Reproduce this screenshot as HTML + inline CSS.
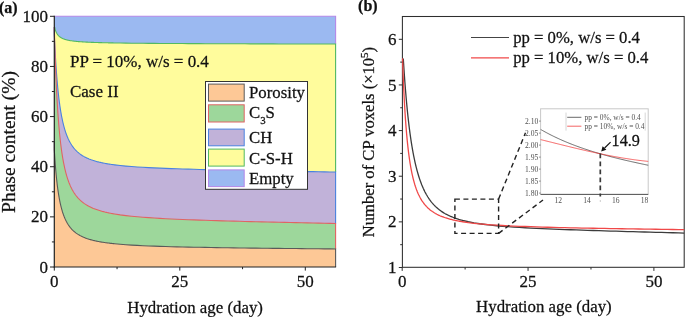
<!DOCTYPE html>
<html><head><meta charset="utf-8"><style>
html,body{margin:0;padding:0;background:#fff;width:685px;height:317px;overflow:hidden}
svg{display:block;will-change:transform}
text{font-family:"Liberation Serif",serif;fill:#111;stroke:#111;stroke-width:0.25px}
</style></head><body>
<svg width="685" height="317" viewBox="0 0 685 317">
<g><polygon points="54.3,16.3 335.6,16.3 335.6,267.0 54.3,267.0" fill="#9bb9f1"/><polygon points="54.30,27.00 54.63,27.13 54.68,27.32 54.72,27.50 54.76,27.68 54.80,27.86 54.84,28.03 54.89,28.19 54.93,28.36 54.97,28.52 55.01,28.68 55.05,28.83 55.10,28.98 55.14,29.13 55.18,29.27 55.22,29.42 55.26,29.56 55.30,29.69 55.35,29.83 55.39,29.96 55.43,30.09 55.47,30.21 55.51,30.34 55.56,30.46 55.60,30.58 55.64,30.70 55.68,30.81 55.72,30.93 55.76,31.04 55.81,31.15 55.85,31.25 55.89,31.36 55.93,31.46 55.97,31.57 56.02,31.67 56.06,31.77 56.10,31.86 56.14,31.96 56.18,32.05 56.23,32.15 56.27,32.24 56.31,32.33 56.35,32.42 56.39,32.50 56.43,32.59 56.48,32.67 56.52,32.76 56.56,32.84 56.60,32.92 56.64,33.00 56.69,33.08 56.73,33.15 56.77,33.23 56.81,33.30 56.97,33.58 57.12,33.83 57.28,34.08 57.44,34.31 57.60,34.54 57.75,34.75 57.91,34.95 58.07,35.14 58.22,35.33 58.38,35.51 58.54,35.68 58.69,35.84 58.85,36.00 59.01,36.15 59.17,36.29 59.32,36.43 59.48,36.57 59.64,36.70 59.79,36.82 59.95,36.95 60.11,37.06 60.26,37.17 60.42,37.28 60.58,37.39 60.73,37.49 60.89,37.59 61.05,37.69 61.21,37.78 61.36,37.87 61.52,37.96 61.68,38.04 61.83,38.13 61.99,38.21 62.15,38.28 62.30,38.36 62.46,38.43 62.62,38.51 62.77,38.58 62.93,38.64 63.09,38.71 63.25,38.78 63.40,38.84 63.56,38.90 63.72,38.96 63.87,39.02 64.03,39.08 64.19,39.13 64.34,39.19 64.50,39.24 64.66,39.29 64.81,39.35 64.97,39.40 65.13,39.44 65.29,39.49 65.44,39.54 65.60,39.58 65.76,39.63 65.91,39.67 66.07,39.72 66.23,39.76 66.38,39.80 66.54,39.84 66.70,39.88 66.85,39.92 67.01,39.96 67.17,39.99 67.33,40.03 67.48,40.07 67.64,40.10 67.80,40.14 67.95,40.17 68.11,40.21 68.27,40.24 68.42,40.27 68.58,40.30 68.74,40.33 68.90,40.36 69.05,40.39 69.21,40.42 69.37,40.45 70.12,40.59 70.87,40.71 71.63,40.82 72.38,40.93 73.13,41.03 73.89,41.12 74.64,41.21 75.39,41.29 76.15,41.37 76.90,41.45 77.65,41.51 78.41,41.58 79.16,41.64 79.91,41.70 80.67,41.76 81.42,41.81 82.17,41.86 82.93,41.91 83.68,41.96 84.43,42.00 85.19,42.04 85.94,42.08 86.69,42.12 87.45,42.16 88.20,42.20 88.95,42.23 89.71,42.26 90.46,42.30 91.21,42.33 91.97,42.36 92.72,42.39 93.47,42.41 94.22,42.44 94.98,42.47 95.73,42.49 96.48,42.52 97.24,42.54 97.99,42.56 98.74,42.59 99.50,42.61 100.25,42.63 101.00,42.65 101.76,42.67 102.51,42.69 103.26,42.71 104.02,42.73 104.77,42.75 105.52,42.76 106.28,42.78 107.03,42.80 107.78,42.81 108.54,42.83 109.29,42.84 110.04,42.86 110.80,42.87 111.55,42.89 112.30,42.90 113.06,42.92 113.81,42.93 114.56,42.94 120.23,43.03 125.90,43.11 131.57,43.18 137.23,43.24 142.90,43.30 148.57,43.35 154.24,43.39 159.90,43.43 165.57,43.47 171.24,43.51 176.91,43.54 182.58,43.57 188.24,43.60 193.91,43.63 199.58,43.65 205.25,43.68 210.91,43.70 216.58,43.72 222.25,43.75 227.92,43.77 233.58,43.79 239.25,43.81 244.92,43.82 250.59,43.84 256.25,43.86 261.92,43.88 267.59,43.89 273.26,43.91 278.92,43.93 284.59,43.94 290.26,43.96 295.93,43.97 301.59,43.99 307.26,44.00 312.93,44.01 318.60,44.03 324.26,44.04 329.93,44.06 335.60,44.07 335.60,267.0 54.30,267.0" fill="#fffc9c"/><polygon points="54.30,27.00 54.30,34.00 54.34,34.97 54.38,35.92 54.43,36.86 54.47,37.79 54.51,38.71 54.55,39.62 54.59,40.51 54.63,41.40 54.68,42.28 54.72,43.15 54.76,44.02 54.80,44.87 54.84,45.71 54.89,46.54 54.93,47.37 54.97,48.18 55.01,48.99 55.05,49.79 55.10,50.58 55.14,51.36 55.18,52.13 55.22,52.90 55.26,53.66 55.30,54.41 55.35,55.15 55.39,55.89 55.43,56.61 55.47,57.33 55.51,58.05 55.56,58.75 55.60,59.45 55.64,60.14 55.68,60.83 55.72,61.50 55.76,62.17 55.81,62.84 55.85,63.50 55.89,64.15 55.93,64.79 55.97,65.43 56.02,66.07 56.06,66.69 56.10,67.31 56.14,67.93 56.18,68.54 56.23,69.14 56.27,69.74 56.31,70.33 56.35,70.92 56.39,71.50 56.43,72.07 56.48,72.64 56.52,73.21 56.56,73.77 56.60,74.32 56.64,74.87 56.69,75.41 56.73,75.95 56.77,76.49 56.81,77.02 56.97,78.96 57.12,80.84 57.28,82.66 57.44,84.42 57.60,86.12 57.75,87.77 57.91,89.37 58.07,90.92 58.22,92.42 58.38,93.88 58.54,95.29 58.69,96.67 58.85,98.00 59.01,99.29 59.17,100.55 59.32,101.77 59.48,102.96 59.64,104.11 59.79,105.24 59.95,106.33 60.11,107.39 60.26,108.43 60.42,109.44 60.58,110.42 60.73,111.37 60.89,112.31 61.05,113.22 61.21,114.10 61.36,114.97 61.52,115.81 61.68,116.63 61.83,117.43 61.99,118.22 62.15,118.98 62.30,119.73 62.46,120.46 62.62,121.17 62.77,121.86 62.93,122.54 63.09,123.21 63.25,123.86 63.40,124.49 63.56,125.12 63.72,125.72 63.87,126.32 64.03,126.90 64.19,127.47 64.34,128.03 64.50,128.58 64.66,129.11 64.81,129.63 64.97,130.15 65.13,130.65 65.29,131.14 65.44,131.62 65.60,132.10 65.76,132.56 65.91,133.01 66.07,133.46 66.23,133.90 66.38,134.33 66.54,134.75 66.70,135.16 66.85,135.56 67.01,135.96 67.17,136.35 67.33,136.74 67.48,137.11 67.64,137.48 67.80,137.84 67.95,138.20 68.11,138.55 68.27,138.89 68.42,139.23 68.58,139.56 68.74,139.89 68.90,140.21 69.05,140.52 69.21,140.83 69.37,141.14 70.12,142.53 70.87,143.81 71.63,145.00 72.38,146.11 73.13,147.14 73.89,148.10 74.64,149.00 75.39,149.83 76.15,150.62 76.90,151.36 77.65,152.05 78.41,152.70 79.16,153.32 79.91,153.90 80.67,154.45 81.42,154.96 82.17,155.46 82.93,155.92 83.68,156.37 84.43,156.79 85.19,157.19 85.94,157.57 86.69,157.93 87.45,158.28 88.20,158.61 88.95,158.93 89.71,159.23 90.46,159.52 91.21,159.80 91.97,160.06 92.72,160.32 93.47,160.56 94.22,160.80 94.98,161.03 95.73,161.24 96.48,161.45 97.24,161.66 97.99,161.85 98.74,162.04 99.50,162.22 100.25,162.40 101.00,162.57 101.76,162.73 102.51,162.89 103.26,163.04 104.02,163.19 104.77,163.33 105.52,163.47 106.28,163.61 107.03,163.74 107.78,163.86 108.54,163.99 109.29,164.11 110.04,164.22 110.80,164.33 111.55,164.44 112.30,164.55 113.06,164.66 113.81,164.76 114.56,164.85 120.23,165.52 125.90,166.08 131.57,166.55 137.23,166.96 142.90,167.31 148.57,167.63 154.24,167.91 159.90,168.17 165.57,168.40 171.24,168.61 176.91,168.81 182.58,168.99 188.24,169.16 193.91,169.32 199.58,169.48 205.25,169.62 210.91,169.76 216.58,169.89 222.25,170.02 227.92,170.14 233.58,170.26 239.25,170.38 244.92,170.49 250.59,170.60 256.25,170.70 261.92,170.81 267.59,170.91 273.26,171.01 278.92,171.11 284.59,171.20 290.26,171.30 295.93,171.39 301.59,171.49 307.26,171.58 312.93,171.67 318.60,171.76 324.26,171.84 329.93,171.93 335.60,172.02 335.60,267.0 54.30,267.0" fill="#c1b2d9"/><polygon points="54.30,27.00 54.30,28.48 54.34,30.05 54.38,31.59 54.43,33.11 54.47,34.61 54.51,36.09 54.55,37.55 54.59,39.00 54.63,40.42 54.68,41.83 54.72,43.22 54.76,44.59 54.80,45.94 54.84,47.28 54.89,48.60 54.93,49.90 54.97,51.19 55.01,52.46 55.05,53.71 55.10,54.95 55.14,56.18 55.18,57.39 55.22,58.58 55.26,59.76 55.30,60.93 55.35,62.08 55.39,63.22 55.43,64.35 55.47,65.46 55.51,66.56 55.56,67.65 55.60,68.72 55.64,69.78 55.68,70.83 55.72,71.87 55.76,72.90 55.81,73.91 55.85,74.91 55.89,75.91 55.93,76.89 55.97,77.86 56.02,78.81 56.06,79.76 56.10,80.70 56.14,81.63 56.18,82.55 56.23,83.45 56.27,84.35 56.31,85.24 56.35,86.12 56.39,86.99 56.43,87.85 56.48,88.70 56.52,89.54 56.56,90.37 56.60,91.20 56.64,92.01 56.69,92.82 56.73,93.62 56.77,94.41 56.81,95.20 56.97,98.06 57.12,100.82 57.28,103.48 57.44,106.04 57.60,108.51 57.75,110.90 57.91,113.20 58.07,115.42 58.22,117.57 58.38,119.65 58.54,121.65 58.69,123.60 58.85,125.48 59.01,127.30 59.17,129.07 59.32,130.78 59.48,132.43 59.64,134.04 59.79,135.60 59.95,137.12 60.11,138.59 60.26,140.02 60.42,141.40 60.58,142.75 60.73,144.06 60.89,145.34 61.05,146.58 61.21,147.79 61.36,148.96 61.52,150.10 61.68,151.22 61.83,152.30 61.99,153.36 62.15,154.39 62.30,155.40 62.46,156.38 62.62,157.33 62.77,158.26 62.93,159.17 63.09,160.06 63.25,160.93 63.40,161.78 63.56,162.60 63.72,163.41 63.87,164.20 64.03,164.97 64.19,165.73 64.34,166.47 64.50,167.19 64.66,167.89 64.81,168.58 64.97,169.26 65.13,169.92 65.29,170.57 65.44,171.20 65.60,171.82 65.76,172.43 65.91,173.03 66.07,173.61 66.23,174.18 66.38,174.74 66.54,175.29 66.70,175.83 66.85,176.36 67.01,176.88 67.17,177.38 67.33,177.88 67.48,178.37 67.64,178.85 67.80,179.32 67.95,179.78 68.11,180.24 68.27,180.68 68.42,181.12 68.58,181.55 68.74,181.97 68.90,182.38 69.05,182.79 69.21,183.19 69.37,183.58 70.12,185.38 70.87,187.03 71.63,188.57 72.38,189.99 73.13,191.30 73.89,192.53 74.64,193.68 75.39,194.75 76.15,195.75 76.90,196.69 77.65,197.58 78.41,198.41 79.16,199.19 79.91,199.93 80.67,200.63 81.42,201.29 82.17,201.92 82.93,202.52 83.68,203.08 84.43,203.62 85.19,204.13 85.94,204.61 86.69,205.08 87.45,205.52 88.20,205.94 88.95,206.35 89.71,206.74 90.46,207.11 91.21,207.46 91.97,207.80 92.72,208.13 93.47,208.45 94.22,208.75 94.98,209.04 95.73,209.32 96.48,209.59 97.24,209.85 97.99,210.10 98.74,210.34 99.50,210.58 100.25,210.80 101.00,211.02 101.76,211.23 102.51,211.44 103.26,211.63 104.02,211.83 104.77,212.01 105.52,212.19 106.28,212.37 107.03,212.54 107.78,212.70 108.54,212.86 109.29,213.02 110.04,213.17 110.80,213.31 111.55,213.46 112.30,213.60 113.06,213.73 113.81,213.86 114.56,213.99 120.23,214.86 125.90,215.59 131.57,216.22 137.23,216.76 142.90,217.23 148.57,217.65 154.24,218.03 159.90,218.37 165.57,218.68 171.24,218.96 176.91,219.23 182.58,219.47 188.24,219.70 193.91,219.91 199.58,220.12 205.25,220.31 210.91,220.50 216.58,220.67 222.25,220.84 227.92,221.00 233.58,221.16 239.25,221.31 244.92,221.46 250.59,221.61 256.25,221.74 261.92,221.88 267.59,222.01 273.26,222.15 278.92,222.27 284.59,222.40 290.26,222.52 295.93,222.64 301.59,222.76 307.26,222.88 312.93,223.00 318.60,223.11 324.26,223.23 329.93,223.34 335.60,223.45 335.60,267.0 54.30,267.0" fill="#9dd79b"/><polygon points="54.30,142.00 54.30,149.72 54.34,150.43 54.38,151.14 54.43,151.83 54.47,152.52 54.51,153.20 54.55,153.87 54.59,154.54 54.63,155.19 54.68,155.84 54.72,156.48 54.76,157.12 54.80,157.74 54.84,158.36 54.89,158.97 54.93,159.58 54.97,160.18 55.01,160.77 55.05,161.35 55.10,161.93 55.14,162.50 55.18,163.07 55.22,163.63 55.26,164.18 55.30,164.72 55.35,165.27 55.39,165.80 55.43,166.33 55.47,166.85 55.51,167.37 55.56,167.88 55.60,168.39 55.64,168.89 55.68,169.39 55.72,169.88 55.76,170.37 55.81,170.85 55.85,171.32 55.89,171.79 55.93,172.26 55.97,172.72 56.02,173.18 56.06,173.63 56.10,174.08 56.14,174.52 56.18,174.96 56.23,175.39 56.27,175.82 56.31,176.25 56.35,176.67 56.39,177.09 56.43,177.50 56.48,177.91 56.52,178.32 56.56,178.72 56.60,179.11 56.64,179.51 56.69,179.90 56.73,180.28 56.77,180.67 56.81,181.05 56.97,182.44 57.12,183.78 57.28,185.07 57.44,186.33 57.60,187.54 57.75,188.71 57.91,189.85 58.07,190.94 58.22,192.01 58.38,193.04 58.54,194.04 58.69,195.01 58.85,195.95 59.01,196.86 59.17,197.75 59.32,198.61 59.48,199.45 59.64,200.26 59.79,201.05 59.95,201.82 60.11,202.57 60.26,203.30 60.42,204.01 60.58,204.70 60.73,205.37 60.89,206.02 61.05,206.66 61.21,207.28 61.36,207.89 61.52,208.48 61.68,209.06 61.83,209.62 61.99,210.17 62.15,210.70 62.30,211.23 62.46,211.74 62.62,212.24 62.77,212.73 62.93,213.21 63.09,213.67 63.25,214.13 63.40,214.57 63.56,215.01 63.72,215.44 63.87,215.85 64.03,216.26 64.19,216.66 64.34,217.05 64.50,217.44 64.66,217.81 64.81,218.18 64.97,218.54 65.13,218.90 65.29,219.24 65.44,219.58 65.60,219.91 65.76,220.24 65.91,220.56 66.07,220.87 66.23,221.18 66.38,221.49 66.54,221.78 66.70,222.07 66.85,222.36 67.01,222.64 67.17,222.91 67.33,223.18 67.48,223.45 67.64,223.71 67.80,223.97 67.95,224.22 68.11,224.47 68.27,224.71 68.42,224.95 68.58,225.18 68.74,225.41 68.90,225.64 69.05,225.86 69.21,226.08 69.37,226.30 70.12,227.29 70.87,228.20 71.63,229.05 72.38,229.84 73.13,230.58 73.89,231.27 74.64,231.92 75.39,232.52 76.15,233.09 76.90,233.62 77.65,234.13 78.41,234.60 79.16,235.05 79.91,235.48 80.67,235.88 81.42,236.26 82.17,236.62 82.93,236.96 83.68,237.29 84.43,237.60 85.19,237.90 85.94,238.18 86.69,238.46 87.45,238.71 88.20,238.96 88.95,239.20 89.71,239.43 90.46,239.65 91.21,239.86 91.97,240.06 92.72,240.25 93.47,240.44 94.22,240.62 94.98,240.79 95.73,240.95 96.48,241.11 97.24,241.27 97.99,241.42 98.74,241.56 99.50,241.70 100.25,241.84 101.00,241.97 101.76,242.09 102.51,242.21 103.26,242.33 104.02,242.45 104.77,242.56 105.52,242.67 106.28,242.77 107.03,242.87 107.78,242.97 108.54,243.07 109.29,243.16 110.04,243.25 110.80,243.34 111.55,243.42 112.30,243.51 113.06,243.59 113.81,243.67 114.56,243.74 120.23,244.27 125.90,244.71 131.57,245.08 137.23,245.40 142.90,245.68 148.57,245.93 154.24,246.15 159.90,246.34 165.57,246.52 171.24,246.68 176.91,246.83 182.58,246.97 188.24,247.09 193.91,247.21 199.58,247.32 205.25,247.42 210.91,247.52 216.58,247.61 222.25,247.70 227.92,247.78 233.58,247.86 239.25,247.94 244.92,248.01 250.59,248.08 256.25,248.15 261.92,248.21 267.59,248.28 273.26,248.34 278.92,248.40 284.59,248.46 290.26,248.51 295.93,248.57 301.59,248.62 307.26,248.68 312.93,248.73 318.60,248.78 324.26,248.83 329.93,248.88 335.60,248.93 335.60,267.0 54.30,267.0" fill="#fdc896"/><polyline points="54.3,16.3 335.6,16.3 335.6,44.07" fill="none" stroke="#b488e8" stroke-width="1.1"/><polyline points="54.30,27.00 54.63,27.13 54.68,27.32 54.72,27.50 54.76,27.68 54.80,27.86 54.84,28.03 54.89,28.19 54.93,28.36 54.97,28.52 55.01,28.68 55.05,28.83 55.10,28.98 55.14,29.13 55.18,29.27 55.22,29.42 55.26,29.56 55.30,29.69 55.35,29.83 55.39,29.96 55.43,30.09 55.47,30.21 55.51,30.34 55.56,30.46 55.60,30.58 55.64,30.70 55.68,30.81 55.72,30.93 55.76,31.04 55.81,31.15 55.85,31.25 55.89,31.36 55.93,31.46 55.97,31.57 56.02,31.67 56.06,31.77 56.10,31.86 56.14,31.96 56.18,32.05 56.23,32.15 56.27,32.24 56.31,32.33 56.35,32.42 56.39,32.50 56.43,32.59 56.48,32.67 56.52,32.76 56.56,32.84 56.60,32.92 56.64,33.00 56.69,33.08 56.73,33.15 56.77,33.23 56.81,33.30 56.97,33.58 57.12,33.83 57.28,34.08 57.44,34.31 57.60,34.54 57.75,34.75 57.91,34.95 58.07,35.14 58.22,35.33 58.38,35.51 58.54,35.68 58.69,35.84 58.85,36.00 59.01,36.15 59.17,36.29 59.32,36.43 59.48,36.57 59.64,36.70 59.79,36.82 59.95,36.95 60.11,37.06 60.26,37.17 60.42,37.28 60.58,37.39 60.73,37.49 60.89,37.59 61.05,37.69 61.21,37.78 61.36,37.87 61.52,37.96 61.68,38.04 61.83,38.13 61.99,38.21 62.15,38.28 62.30,38.36 62.46,38.43 62.62,38.51 62.77,38.58 62.93,38.64 63.09,38.71 63.25,38.78 63.40,38.84 63.56,38.90 63.72,38.96 63.87,39.02 64.03,39.08 64.19,39.13 64.34,39.19 64.50,39.24 64.66,39.29 64.81,39.35 64.97,39.40 65.13,39.44 65.29,39.49 65.44,39.54 65.60,39.58 65.76,39.63 65.91,39.67 66.07,39.72 66.23,39.76 66.38,39.80 66.54,39.84 66.70,39.88 66.85,39.92 67.01,39.96 67.17,39.99 67.33,40.03 67.48,40.07 67.64,40.10 67.80,40.14 67.95,40.17 68.11,40.21 68.27,40.24 68.42,40.27 68.58,40.30 68.74,40.33 68.90,40.36 69.05,40.39 69.21,40.42 69.37,40.45 70.12,40.59 70.87,40.71 71.63,40.82 72.38,40.93 73.13,41.03 73.89,41.12 74.64,41.21 75.39,41.29 76.15,41.37 76.90,41.45 77.65,41.51 78.41,41.58 79.16,41.64 79.91,41.70 80.67,41.76 81.42,41.81 82.17,41.86 82.93,41.91 83.68,41.96 84.43,42.00 85.19,42.04 85.94,42.08 86.69,42.12 87.45,42.16 88.20,42.20 88.95,42.23 89.71,42.26 90.46,42.30 91.21,42.33 91.97,42.36 92.72,42.39 93.47,42.41 94.22,42.44 94.98,42.47 95.73,42.49 96.48,42.52 97.24,42.54 97.99,42.56 98.74,42.59 99.50,42.61 100.25,42.63 101.00,42.65 101.76,42.67 102.51,42.69 103.26,42.71 104.02,42.73 104.77,42.75 105.52,42.76 106.28,42.78 107.03,42.80 107.78,42.81 108.54,42.83 109.29,42.84 110.04,42.86 110.80,42.87 111.55,42.89 112.30,42.90 113.06,42.92 113.81,42.93 114.56,42.94 120.23,43.03 125.90,43.11 131.57,43.18 137.23,43.24 142.90,43.30 148.57,43.35 154.24,43.39 159.90,43.43 165.57,43.47 171.24,43.51 176.91,43.54 182.58,43.57 188.24,43.60 193.91,43.63 199.58,43.65 205.25,43.68 210.91,43.70 216.58,43.72 222.25,43.75 227.92,43.77 233.58,43.79 239.25,43.81 244.92,43.82 250.59,43.84 256.25,43.86 261.92,43.88 267.59,43.89 273.26,43.91 278.92,43.93 284.59,43.94 290.26,43.96 295.93,43.97 301.59,43.99 307.26,44.00 312.93,44.01 318.60,44.03 324.26,44.04 329.93,44.06 335.60,44.07 335.6,172.02" fill="none" stroke="#52b962" stroke-width="1.1"/><polyline points="54.30,27.00 54.30,34.00 54.34,34.97 54.38,35.92 54.43,36.86 54.47,37.79 54.51,38.71 54.55,39.62 54.59,40.51 54.63,41.40 54.68,42.28 54.72,43.15 54.76,44.02 54.80,44.87 54.84,45.71 54.89,46.54 54.93,47.37 54.97,48.18 55.01,48.99 55.05,49.79 55.10,50.58 55.14,51.36 55.18,52.13 55.22,52.90 55.26,53.66 55.30,54.41 55.35,55.15 55.39,55.89 55.43,56.61 55.47,57.33 55.51,58.05 55.56,58.75 55.60,59.45 55.64,60.14 55.68,60.83 55.72,61.50 55.76,62.17 55.81,62.84 55.85,63.50 55.89,64.15 55.93,64.79 55.97,65.43 56.02,66.07 56.06,66.69 56.10,67.31 56.14,67.93 56.18,68.54 56.23,69.14 56.27,69.74 56.31,70.33 56.35,70.92 56.39,71.50 56.43,72.07 56.48,72.64 56.52,73.21 56.56,73.77 56.60,74.32 56.64,74.87 56.69,75.41 56.73,75.95 56.77,76.49 56.81,77.02 56.97,78.96 57.12,80.84 57.28,82.66 57.44,84.42 57.60,86.12 57.75,87.77 57.91,89.37 58.07,90.92 58.22,92.42 58.38,93.88 58.54,95.29 58.69,96.67 58.85,98.00 59.01,99.29 59.17,100.55 59.32,101.77 59.48,102.96 59.64,104.11 59.79,105.24 59.95,106.33 60.11,107.39 60.26,108.43 60.42,109.44 60.58,110.42 60.73,111.37 60.89,112.31 61.05,113.22 61.21,114.10 61.36,114.97 61.52,115.81 61.68,116.63 61.83,117.43 61.99,118.22 62.15,118.98 62.30,119.73 62.46,120.46 62.62,121.17 62.77,121.86 62.93,122.54 63.09,123.21 63.25,123.86 63.40,124.49 63.56,125.12 63.72,125.72 63.87,126.32 64.03,126.90 64.19,127.47 64.34,128.03 64.50,128.58 64.66,129.11 64.81,129.63 64.97,130.15 65.13,130.65 65.29,131.14 65.44,131.62 65.60,132.10 65.76,132.56 65.91,133.01 66.07,133.46 66.23,133.90 66.38,134.33 66.54,134.75 66.70,135.16 66.85,135.56 67.01,135.96 67.17,136.35 67.33,136.74 67.48,137.11 67.64,137.48 67.80,137.84 67.95,138.20 68.11,138.55 68.27,138.89 68.42,139.23 68.58,139.56 68.74,139.89 68.90,140.21 69.05,140.52 69.21,140.83 69.37,141.14 70.12,142.53 70.87,143.81 71.63,145.00 72.38,146.11 73.13,147.14 73.89,148.10 74.64,149.00 75.39,149.83 76.15,150.62 76.90,151.36 77.65,152.05 78.41,152.70 79.16,153.32 79.91,153.90 80.67,154.45 81.42,154.96 82.17,155.46 82.93,155.92 83.68,156.37 84.43,156.79 85.19,157.19 85.94,157.57 86.69,157.93 87.45,158.28 88.20,158.61 88.95,158.93 89.71,159.23 90.46,159.52 91.21,159.80 91.97,160.06 92.72,160.32 93.47,160.56 94.22,160.80 94.98,161.03 95.73,161.24 96.48,161.45 97.24,161.66 97.99,161.85 98.74,162.04 99.50,162.22 100.25,162.40 101.00,162.57 101.76,162.73 102.51,162.89 103.26,163.04 104.02,163.19 104.77,163.33 105.52,163.47 106.28,163.61 107.03,163.74 107.78,163.86 108.54,163.99 109.29,164.11 110.04,164.22 110.80,164.33 111.55,164.44 112.30,164.55 113.06,164.66 113.81,164.76 114.56,164.85 120.23,165.52 125.90,166.08 131.57,166.55 137.23,166.96 142.90,167.31 148.57,167.63 154.24,167.91 159.90,168.17 165.57,168.40 171.24,168.61 176.91,168.81 182.58,168.99 188.24,169.16 193.91,169.32 199.58,169.48 205.25,169.62 210.91,169.76 216.58,169.89 222.25,170.02 227.92,170.14 233.58,170.26 239.25,170.38 244.92,170.49 250.59,170.60 256.25,170.70 261.92,170.81 267.59,170.91 273.26,171.01 278.92,171.11 284.59,171.20 290.26,171.30 295.93,171.39 301.59,171.49 307.26,171.58 312.93,171.67 318.60,171.76 324.26,171.84 329.93,171.93 335.60,172.02 335.6,223.45" fill="none" stroke="#4a82e0" stroke-width="1.1"/><polyline points="54.30,27.00 54.30,28.48 54.34,30.05 54.38,31.59 54.43,33.11 54.47,34.61 54.51,36.09 54.55,37.55 54.59,39.00 54.63,40.42 54.68,41.83 54.72,43.22 54.76,44.59 54.80,45.94 54.84,47.28 54.89,48.60 54.93,49.90 54.97,51.19 55.01,52.46 55.05,53.71 55.10,54.95 55.14,56.18 55.18,57.39 55.22,58.58 55.26,59.76 55.30,60.93 55.35,62.08 55.39,63.22 55.43,64.35 55.47,65.46 55.51,66.56 55.56,67.65 55.60,68.72 55.64,69.78 55.68,70.83 55.72,71.87 55.76,72.90 55.81,73.91 55.85,74.91 55.89,75.91 55.93,76.89 55.97,77.86 56.02,78.81 56.06,79.76 56.10,80.70 56.14,81.63 56.18,82.55 56.23,83.45 56.27,84.35 56.31,85.24 56.35,86.12 56.39,86.99 56.43,87.85 56.48,88.70 56.52,89.54 56.56,90.37 56.60,91.20 56.64,92.01 56.69,92.82 56.73,93.62 56.77,94.41 56.81,95.20 56.97,98.06 57.12,100.82 57.28,103.48 57.44,106.04 57.60,108.51 57.75,110.90 57.91,113.20 58.07,115.42 58.22,117.57 58.38,119.65 58.54,121.65 58.69,123.60 58.85,125.48 59.01,127.30 59.17,129.07 59.32,130.78 59.48,132.43 59.64,134.04 59.79,135.60 59.95,137.12 60.11,138.59 60.26,140.02 60.42,141.40 60.58,142.75 60.73,144.06 60.89,145.34 61.05,146.58 61.21,147.79 61.36,148.96 61.52,150.10 61.68,151.22 61.83,152.30 61.99,153.36 62.15,154.39 62.30,155.40 62.46,156.38 62.62,157.33 62.77,158.26 62.93,159.17 63.09,160.06 63.25,160.93 63.40,161.78 63.56,162.60 63.72,163.41 63.87,164.20 64.03,164.97 64.19,165.73 64.34,166.47 64.50,167.19 64.66,167.89 64.81,168.58 64.97,169.26 65.13,169.92 65.29,170.57 65.44,171.20 65.60,171.82 65.76,172.43 65.91,173.03 66.07,173.61 66.23,174.18 66.38,174.74 66.54,175.29 66.70,175.83 66.85,176.36 67.01,176.88 67.17,177.38 67.33,177.88 67.48,178.37 67.64,178.85 67.80,179.32 67.95,179.78 68.11,180.24 68.27,180.68 68.42,181.12 68.58,181.55 68.74,181.97 68.90,182.38 69.05,182.79 69.21,183.19 69.37,183.58 70.12,185.38 70.87,187.03 71.63,188.57 72.38,189.99 73.13,191.30 73.89,192.53 74.64,193.68 75.39,194.75 76.15,195.75 76.90,196.69 77.65,197.58 78.41,198.41 79.16,199.19 79.91,199.93 80.67,200.63 81.42,201.29 82.17,201.92 82.93,202.52 83.68,203.08 84.43,203.62 85.19,204.13 85.94,204.61 86.69,205.08 87.45,205.52 88.20,205.94 88.95,206.35 89.71,206.74 90.46,207.11 91.21,207.46 91.97,207.80 92.72,208.13 93.47,208.45 94.22,208.75 94.98,209.04 95.73,209.32 96.48,209.59 97.24,209.85 97.99,210.10 98.74,210.34 99.50,210.58 100.25,210.80 101.00,211.02 101.76,211.23 102.51,211.44 103.26,211.63 104.02,211.83 104.77,212.01 105.52,212.19 106.28,212.37 107.03,212.54 107.78,212.70 108.54,212.86 109.29,213.02 110.04,213.17 110.80,213.31 111.55,213.46 112.30,213.60 113.06,213.73 113.81,213.86 114.56,213.99 120.23,214.86 125.90,215.59 131.57,216.22 137.23,216.76 142.90,217.23 148.57,217.65 154.24,218.03 159.90,218.37 165.57,218.68 171.24,218.96 176.91,219.23 182.58,219.47 188.24,219.70 193.91,219.91 199.58,220.12 205.25,220.31 210.91,220.50 216.58,220.67 222.25,220.84 227.92,221.00 233.58,221.16 239.25,221.31 244.92,221.46 250.59,221.61 256.25,221.74 261.92,221.88 267.59,222.01 273.26,222.15 278.92,222.27 284.59,222.40 290.26,222.52 295.93,222.64 301.59,222.76 307.26,222.88 312.93,223.00 318.60,223.11 324.26,223.23 329.93,223.34 335.60,223.45 335.6,248.93" fill="none" stroke="#e06464" stroke-width="1.1"/><polyline points="54.30,142.00 54.30,149.72 54.34,150.43 54.38,151.14 54.43,151.83 54.47,152.52 54.51,153.20 54.55,153.87 54.59,154.54 54.63,155.19 54.68,155.84 54.72,156.48 54.76,157.12 54.80,157.74 54.84,158.36 54.89,158.97 54.93,159.58 54.97,160.18 55.01,160.77 55.05,161.35 55.10,161.93 55.14,162.50 55.18,163.07 55.22,163.63 55.26,164.18 55.30,164.72 55.35,165.27 55.39,165.80 55.43,166.33 55.47,166.85 55.51,167.37 55.56,167.88 55.60,168.39 55.64,168.89 55.68,169.39 55.72,169.88 55.76,170.37 55.81,170.85 55.85,171.32 55.89,171.79 55.93,172.26 55.97,172.72 56.02,173.18 56.06,173.63 56.10,174.08 56.14,174.52 56.18,174.96 56.23,175.39 56.27,175.82 56.31,176.25 56.35,176.67 56.39,177.09 56.43,177.50 56.48,177.91 56.52,178.32 56.56,178.72 56.60,179.11 56.64,179.51 56.69,179.90 56.73,180.28 56.77,180.67 56.81,181.05 56.97,182.44 57.12,183.78 57.28,185.07 57.44,186.33 57.60,187.54 57.75,188.71 57.91,189.85 58.07,190.94 58.22,192.01 58.38,193.04 58.54,194.04 58.69,195.01 58.85,195.95 59.01,196.86 59.17,197.75 59.32,198.61 59.48,199.45 59.64,200.26 59.79,201.05 59.95,201.82 60.11,202.57 60.26,203.30 60.42,204.01 60.58,204.70 60.73,205.37 60.89,206.02 61.05,206.66 61.21,207.28 61.36,207.89 61.52,208.48 61.68,209.06 61.83,209.62 61.99,210.17 62.15,210.70 62.30,211.23 62.46,211.74 62.62,212.24 62.77,212.73 62.93,213.21 63.09,213.67 63.25,214.13 63.40,214.57 63.56,215.01 63.72,215.44 63.87,215.85 64.03,216.26 64.19,216.66 64.34,217.05 64.50,217.44 64.66,217.81 64.81,218.18 64.97,218.54 65.13,218.90 65.29,219.24 65.44,219.58 65.60,219.91 65.76,220.24 65.91,220.56 66.07,220.87 66.23,221.18 66.38,221.49 66.54,221.78 66.70,222.07 66.85,222.36 67.01,222.64 67.17,222.91 67.33,223.18 67.48,223.45 67.64,223.71 67.80,223.97 67.95,224.22 68.11,224.47 68.27,224.71 68.42,224.95 68.58,225.18 68.74,225.41 68.90,225.64 69.05,225.86 69.21,226.08 69.37,226.30 70.12,227.29 70.87,228.20 71.63,229.05 72.38,229.84 73.13,230.58 73.89,231.27 74.64,231.92 75.39,232.52 76.15,233.09 76.90,233.62 77.65,234.13 78.41,234.60 79.16,235.05 79.91,235.48 80.67,235.88 81.42,236.26 82.17,236.62 82.93,236.96 83.68,237.29 84.43,237.60 85.19,237.90 85.94,238.18 86.69,238.46 87.45,238.71 88.20,238.96 88.95,239.20 89.71,239.43 90.46,239.65 91.21,239.86 91.97,240.06 92.72,240.25 93.47,240.44 94.22,240.62 94.98,240.79 95.73,240.95 96.48,241.11 97.24,241.27 97.99,241.42 98.74,241.56 99.50,241.70 100.25,241.84 101.00,241.97 101.76,242.09 102.51,242.21 103.26,242.33 104.02,242.45 104.77,242.56 105.52,242.67 106.28,242.77 107.03,242.87 107.78,242.97 108.54,243.07 109.29,243.16 110.04,243.25 110.80,243.34 111.55,243.42 112.30,243.51 113.06,243.59 113.81,243.67 114.56,243.74 120.23,244.27 125.90,244.71 131.57,245.08 137.23,245.40 142.90,245.68 148.57,245.93 154.24,246.15 159.90,246.34 165.57,246.52 171.24,246.68 176.91,246.83 182.58,246.97 188.24,247.09 193.91,247.21 199.58,247.32 205.25,247.42 210.91,247.52 216.58,247.61 222.25,247.70 227.92,247.78 233.58,247.86 239.25,247.94 244.92,248.01 250.59,248.08 256.25,248.15 261.92,248.21 267.59,248.28 273.26,248.34 278.92,248.40 284.59,248.46 290.26,248.51 295.93,248.57 301.59,248.62 307.26,248.68 312.93,248.73 318.60,248.78 324.26,248.83 329.93,248.88 335.60,248.93 335.6,267.0" fill="none" stroke="#5a5a5a" stroke-width="1.1"/></g>
<g><line x1="54.3" y1="15.8" x2="54.3" y2="267.6" stroke="#222" stroke-width="1.2"/><line x1="53.699999999999996" y1="267.0" x2="336.1" y2="267.0" stroke="#222" stroke-width="1.2"/><line x1="50.0" y1="267.00" x2="54.3" y2="267.00" stroke="#222" stroke-width="1"/><line x1="51.9" y1="241.93" x2="54.3" y2="241.93" stroke="#222" stroke-width="1"/><line x1="50.0" y1="216.86" x2="54.3" y2="216.86" stroke="#222" stroke-width="1"/><line x1="51.9" y1="191.79" x2="54.3" y2="191.79" stroke="#222" stroke-width="1"/><line x1="50.0" y1="166.72" x2="54.3" y2="166.72" stroke="#222" stroke-width="1"/><line x1="51.9" y1="141.65" x2="54.3" y2="141.65" stroke="#222" stroke-width="1"/><line x1="50.0" y1="116.58" x2="54.3" y2="116.58" stroke="#222" stroke-width="1"/><line x1="51.9" y1="91.51" x2="54.3" y2="91.51" stroke="#222" stroke-width="1"/><line x1="50.0" y1="66.44" x2="54.3" y2="66.44" stroke="#222" stroke-width="1"/><line x1="51.9" y1="41.37" x2="54.3" y2="41.37" stroke="#222" stroke-width="1"/><line x1="50.0" y1="16.30" x2="54.3" y2="16.30" stroke="#222" stroke-width="1"/><line x1="54.30" y1="267.0" x2="54.30" y2="270.6" stroke="#222" stroke-width="1"/><line x1="117.05" y1="267.0" x2="117.05" y2="269.2" stroke="#222" stroke-width="1"/><line x1="179.80" y1="267.0" x2="179.80" y2="270.6" stroke="#222" stroke-width="1"/><line x1="242.55" y1="267.0" x2="242.55" y2="269.2" stroke="#222" stroke-width="1"/><line x1="305.30" y1="267.0" x2="305.30" y2="270.6" stroke="#222" stroke-width="1"/></g>
<g><rect x="205.5" y="81.5" width="102" height="107.8" fill="#fff" stroke="#333" stroke-width="1"/><rect x="208.5" y="84.1" width="35.7" height="17.0" fill="#fdc896" stroke="#5a5a5a" stroke-width="1"/><rect x="208.5" y="104.8" width="35.7" height="17.200000000000003" fill="#9dd79b" stroke="#e06464" stroke-width="1"/><rect x="208.5" y="129.1" width="35.7" height="16.700000000000017" fill="#c1b2d9" stroke="#4a82e0" stroke-width="1"/><rect x="208.5" y="149.1" width="35.7" height="17.0" fill="#fffc9c" stroke="#52b962" stroke-width="1"/><rect x="208.5" y="169.9" width="35.7" height="16.69999999999999" fill="#9bb9f1" stroke="#b488e8" stroke-width="1"/><text transform="translate(249.0,98.3) scale(1.0,1.04)" font-size="16.8">Porosity</text><text transform="translate(249.0,118.4) scale(1.0,1.04)" font-size="16.8">C<tspan dy="5.5" font-size="10.8">3</tspan><tspan dy="-5.5">S</tspan></text><text transform="translate(249.0,143.1) scale(1.0,1.04)" font-size="16.8">CH</text><text transform="translate(249.0,163.8) scale(1.0,1.04)" font-size="16.8">C-S-H</text><text transform="translate(249.0,183.5) scale(1.0,1.04)" font-size="16.8">Empty</text></g>
<g><text transform="translate(48.099999999999994,272.6) scale(1.0,1.04)" font-size="17" text-anchor="end">0</text><text transform="translate(48.099999999999994,222.46) scale(1.0,1.04)" font-size="17" text-anchor="end">20</text><text transform="translate(48.099999999999994,172.32) scale(1.0,1.04)" font-size="17" text-anchor="end">40</text><text transform="translate(48.099999999999994,122.18) scale(1.0,1.04)" font-size="17" text-anchor="end">60</text><text transform="translate(48.099999999999994,72.04) scale(1.0,1.04)" font-size="17" text-anchor="end">80</text><text transform="translate(48.099999999999994,21.9) scale(1.0,1.04)" font-size="17" text-anchor="end">100</text><text transform="translate(54.3,287.2) scale(1.0,1.04)" font-size="17" text-anchor="middle">0</text><text transform="translate(179.8,287.2) scale(1.0,1.04)" font-size="17" text-anchor="middle">25</text><text transform="translate(305.3,287.2) scale(1.0,1.04)" font-size="17" text-anchor="middle">50</text><text transform="translate(195.1,312.6) scale(1.0,1.04)" font-size="16.85" text-anchor="middle">Hydration age (day)</text><text transform="translate(15.0,142) rotate(-90) scale(1.0,1.0)" font-size="19.5" text-anchor="middle">Phase content (%)</text><text transform="translate(-1.1,13.2) scale(1,1)" font-size="16" font-weight="bold">(a)</text><text transform="translate(70.0,66.7) scale(1.0,1.04)" font-size="17">PP = 10%, w/s = 0.4</text><text transform="translate(70.0,97.3) scale(1.0,1.04)" font-size="17">Case II</text></g>
<g><rect x="402.4" y="16.5" width="281.80000000000007" height="250.8" fill="none" stroke="#2e2e2e" stroke-width="1.05"/><polyline points="402.20,58.50 403.33,59.15 403.37,59.83 403.42,60.51 403.46,61.19 403.50,61.86 403.54,62.53 403.58,63.20 403.63,63.86 403.67,64.52 403.71,65.17 403.75,65.82 403.79,66.47 403.84,67.11 403.88,67.75 403.92,68.39 403.96,69.02 404.00,69.65 404.05,70.28 404.09,70.90 404.13,71.52 404.17,72.14 404.21,72.75 404.26,73.36 404.30,73.97 404.34,74.57 404.38,75.17 404.42,75.77 404.47,76.36 404.51,76.95 404.55,77.54 404.59,78.12 404.63,78.70 404.68,79.28 404.72,79.85 404.87,81.98 405.03,84.07 405.19,86.11 405.35,88.11 405.50,90.08 405.66,92.01 405.82,93.90 405.98,95.75 406.13,97.57 406.29,99.36 406.45,101.11 406.60,102.83 406.76,104.52 406.92,106.17 407.08,107.80 407.23,109.40 407.39,110.96 407.55,112.50 407.71,114.01 407.86,115.50 408.02,116.95 408.18,118.38 408.34,119.79 408.49,121.17 408.65,122.53 408.81,123.86 408.96,125.17 409.12,126.46 409.28,127.72 409.44,128.97 409.59,130.19 409.75,131.39 409.91,132.57 410.07,133.73 410.22,134.88 410.38,136.00 410.54,137.11 410.69,138.19 410.85,139.26 411.01,140.31 411.17,141.35 411.32,142.36 411.48,143.36 411.64,144.35 411.80,145.32 411.95,146.27 412.11,147.21 412.27,148.13 412.43,149.04 412.58,149.94 412.74,150.82 412.90,151.69 413.05,152.54 413.21,153.38 413.37,154.21 413.53,155.02 413.68,155.83 413.84,156.62 414.00,157.40 414.16,158.16 414.31,158.92 414.47,159.67 414.63,160.40 414.78,161.12 414.94,161.83 415.10,162.54 415.26,163.23 415.41,163.91 415.57,164.58 415.73,165.24 415.89,165.90 416.04,166.54 416.20,167.17 416.36,167.80 416.52,168.41 416.67,169.02 416.83,169.62 416.99,170.21 417.14,170.79 417.30,171.37 418.06,174.02 418.81,176.50 419.57,178.83 420.32,181.01 421.08,183.07 421.83,185.00 422.59,186.82 423.34,188.53 424.10,190.15 424.85,191.68 425.61,193.13 426.36,194.50 427.12,195.79 427.87,197.02 428.63,198.19 429.38,199.29 430.14,200.34 430.89,201.34 431.65,202.30 432.40,203.20 433.16,204.06 433.91,204.89 434.67,205.67 435.42,206.42 436.18,207.14 436.93,207.82 437.69,208.48 438.44,209.11 439.20,209.71 439.95,210.28 440.71,210.84 441.47,211.37 442.22,211.87 442.98,212.36 443.73,212.83 444.49,213.28 445.24,213.72 446.00,214.13 446.75,214.53 447.51,214.92 448.26,215.29 449.02,215.65 449.77,216.00 450.53,216.34 451.28,216.66 452.04,216.97 452.79,217.27 453.55,217.56 454.30,217.85 455.06,218.12 455.81,218.38 456.57,218.64 457.32,218.88 458.08,219.12 458.83,219.36 459.59,219.58 460.34,219.80 461.10,220.01 461.85,220.22 462.61,220.42 468.29,221.75 473.97,222.84 479.65,223.74 485.34,224.51 491.02,225.16 496.70,225.73 502.38,226.23 508.06,226.67 513.74,227.07 519.43,227.43 525.11,227.76 530.79,228.07 536.47,228.35 542.15,228.61 547.84,228.86 553.52,229.10 559.20,229.33 564.88,229.54 570.56,229.75 576.24,229.95 581.93,230.14 587.61,230.33 593.29,230.51 598.97,230.69 604.65,230.87 610.34,231.04 616.02,231.20 621.70,231.37 627.38,231.53 633.06,231.69 638.75,231.85 644.43,232.01 650.11,232.16 655.79,232.32 661.47,232.47 667.15,232.62 672.84,232.77 678.52,232.92 684.20,233.07" fill="none" stroke="#3c3c3c" stroke-width="1.3"/><polyline points="402.20,58.50 402.54,58.84 402.58,60.06 402.62,61.26 402.66,62.45 402.70,63.63 402.75,64.79 402.79,65.94 402.83,67.08 402.87,68.21 402.91,69.32 402.96,70.42 403.00,71.50 403.04,72.58 403.08,73.64 403.12,74.70 403.16,75.74 403.21,76.76 403.25,77.78 403.29,78.79 403.33,79.78 403.37,80.77 403.42,81.74 403.46,82.71 403.50,83.66 403.54,84.61 403.58,85.54 403.63,86.47 403.67,87.38 403.71,88.29 403.75,89.18 403.79,90.07 403.84,90.95 403.88,91.82 403.92,92.68 403.96,93.53 404.00,94.37 404.05,95.20 404.09,96.03 404.13,96.85 404.17,97.66 404.21,98.46 404.26,99.25 404.30,100.04 404.34,100.81 404.38,101.58 404.42,102.35 404.47,103.10 404.51,103.85 404.55,104.59 404.59,105.33 404.63,106.05 404.68,106.77 404.72,107.49 404.87,110.10 405.03,112.63 405.19,115.06 405.35,117.42 405.50,119.70 405.66,121.90 405.82,124.04 405.98,126.10 406.13,128.10 406.29,130.03 406.45,131.91 406.60,133.73 406.76,135.49 406.92,137.21 407.08,138.87 407.23,140.48 407.39,142.05 407.55,143.57 407.71,145.05 407.86,146.49 408.02,147.88 408.18,149.24 408.34,150.56 408.49,151.85 408.65,153.11 408.81,154.33 408.96,155.51 409.12,156.67 409.28,157.80 409.44,158.90 409.59,159.97 409.75,161.02 409.91,162.04 410.07,163.03 410.22,164.00 410.38,164.95 410.54,165.88 410.69,166.78 410.85,167.66 411.01,168.53 411.17,169.37 411.32,170.19 411.48,171.00 411.64,171.79 411.80,172.56 411.95,173.31 412.11,174.05 412.27,174.77 412.43,175.47 412.58,176.16 412.74,176.84 412.90,177.50 413.05,178.15 413.21,178.79 413.37,179.41 413.53,180.02 413.68,180.61 413.84,181.20 414.00,181.77 414.16,182.34 414.31,182.89 414.47,183.43 414.63,183.96 414.78,184.48 414.94,184.99 415.10,185.49 415.26,185.98 415.41,186.47 415.57,186.94 415.73,187.41 415.89,187.86 416.04,188.31 416.20,188.75 416.36,189.18 416.52,189.61 416.67,190.03 416.83,190.44 416.99,190.84 417.14,191.24 417.30,191.63 418.06,193.41 418.81,195.05 419.57,196.57 420.32,197.99 421.08,199.30 421.83,200.53 422.59,201.67 423.34,202.74 424.10,203.74 424.85,204.67 425.61,205.56 426.36,206.39 427.12,207.17 427.87,207.91 428.63,208.60 429.38,209.26 430.14,209.89 430.89,210.48 431.65,211.04 432.40,211.58 433.16,212.08 433.91,212.57 434.67,213.03 435.42,213.47 436.18,213.89 436.93,214.29 437.69,214.67 438.44,215.04 439.20,215.39 439.95,215.73 440.71,216.05 441.47,216.36 442.22,216.66 442.98,216.95 443.73,217.22 444.49,217.49 445.24,217.75 446.00,217.99 446.75,218.23 447.51,218.46 448.26,218.68 449.02,218.89 449.77,219.10 450.53,219.30 451.28,219.49 452.04,219.68 452.79,219.86 453.55,220.03 454.30,220.20 455.06,220.36 455.81,220.52 456.57,220.68 457.32,220.83 458.08,220.97 458.83,221.11 459.59,221.25 460.34,221.39 461.10,221.51 461.85,221.64 462.61,221.76 468.29,222.59 473.97,223.28 479.65,223.86 485.34,224.35 491.02,224.78 496.70,225.16 502.38,225.49 508.06,225.78 513.74,226.05 519.43,226.29 525.11,226.51 530.79,226.71 536.47,226.90 542.15,227.07 547.84,227.24 553.52,227.39 559.20,227.53 564.88,227.67 570.56,227.79 576.24,227.92 581.93,228.03 587.61,228.15 593.29,228.25 598.97,228.36 604.65,228.46 610.34,228.56 616.02,228.65 621.70,228.74 627.38,228.83 633.06,228.92 638.75,229.00 644.43,229.08 650.11,229.17 655.79,229.25 661.47,229.32 667.15,229.40 672.84,229.48 678.52,229.55 684.20,229.62" fill="none" stroke="#f04848" stroke-width="1.3"/><rect x="454.9" y="199.1" width="43.7" height="34.3" fill="none" stroke="#222" stroke-width="1.4" stroke-dasharray="5,3.5"/><line x1="498.6" y1="199.1" x2="525.5" y2="132.8" stroke="#222" stroke-width="1.4" stroke-dasharray="5,3.5"/><line x1="498.6" y1="233.4" x2="543" y2="200" stroke="#222" stroke-width="1.4" stroke-dasharray="5,3.5"/><line x1="398.79999999999995" y1="267.50" x2="402.4" y2="267.50" stroke="#2e2e2e" stroke-width="1"/><line x1="400.2" y1="244.68" x2="402.4" y2="244.68" stroke="#2e2e2e" stroke-width="1"/><line x1="398.79999999999995" y1="221.86" x2="402.4" y2="221.86" stroke="#2e2e2e" stroke-width="1"/><line x1="400.2" y1="199.04" x2="402.4" y2="199.04" stroke="#2e2e2e" stroke-width="1"/><line x1="398.79999999999995" y1="176.22" x2="402.4" y2="176.22" stroke="#2e2e2e" stroke-width="1"/><line x1="400.2" y1="153.40" x2="402.4" y2="153.40" stroke="#2e2e2e" stroke-width="1"/><line x1="398.79999999999995" y1="130.58" x2="402.4" y2="130.58" stroke="#2e2e2e" stroke-width="1"/><line x1="400.2" y1="107.76" x2="402.4" y2="107.76" stroke="#2e2e2e" stroke-width="1"/><line x1="398.79999999999995" y1="84.94" x2="402.4" y2="84.94" stroke="#2e2e2e" stroke-width="1"/><line x1="400.2" y1="62.12" x2="402.4" y2="62.12" stroke="#2e2e2e" stroke-width="1"/><line x1="398.79999999999995" y1="39.30" x2="402.4" y2="39.30" stroke="#2e2e2e" stroke-width="1"/><line x1="402.20" y1="267.3" x2="402.20" y2="270.90000000000003" stroke="#2e2e2e" stroke-width="1"/><line x1="465.12" y1="267.3" x2="465.12" y2="269.5" stroke="#2e2e2e" stroke-width="1"/><line x1="528.05" y1="267.3" x2="528.05" y2="270.90000000000003" stroke="#2e2e2e" stroke-width="1"/><line x1="590.98" y1="267.3" x2="590.98" y2="269.5" stroke="#2e2e2e" stroke-width="1"/><line x1="653.90" y1="267.3" x2="653.90" y2="270.90000000000003" stroke="#2e2e2e" stroke-width="1"/><line x1="471" y1="37.5" x2="509" y2="37.5" stroke="#444" stroke-width="1.1"/><line x1="471" y1="57.9" x2="509" y2="57.9" stroke="#f04848" stroke-width="1.3"/></g>
<g><rect x="540.6" y="108.8" width="107.60000000000002" height="85.60000000000001" fill="#fff" stroke="#c8c8c8" stroke-width="1"/><polyline points="540.73,129.49 541.57,129.97 542.41,130.44 543.24,130.91 544.09,131.38 544.93,131.84 545.77,132.30 546.62,132.76 547.47,133.21 548.32,133.65 549.17,134.10 550.02,134.53 550.87,134.97 551.73,135.40 552.59,135.82 553.45,136.25 554.31,136.67 555.17,137.08 556.03,137.49 556.90,137.90 557.76,138.30 558.63,138.70 559.50,139.10 560.37,139.49 561.24,139.88 562.12,140.27 562.99,140.65 563.87,141.03 564.75,141.40 565.63,141.77 566.51,142.14 567.39,142.51 568.27,142.87 569.16,143.23 570.04,143.58 570.93,143.93 571.82,144.28 572.71,144.63 573.60,144.97 574.49,145.31 575.38,145.65 576.28,145.98 577.17,146.31 578.07,146.64 578.97,146.96 579.86,147.28 580.76,147.60 581.66,147.92 582.57,148.23 583.47,148.54 584.37,148.85 585.28,149.15 586.18,149.45 587.09,149.75 588.00,150.05 588.91,150.34 589.82,150.63 590.73,150.92 591.64,151.21 592.55,151.49 593.46,151.78 594.37,152.05 595.29,152.33 596.20,152.61 597.12,152.88 598.04,153.15 598.95,153.42 599.87,153.68 600.79,153.94 601.71,154.21 602.63,154.46 603.55,154.72 604.47,154.98 605.40,155.23 606.32,155.48 607.24,155.73 608.17,155.98 609.09,156.22 610.02,156.46 610.94,156.71 611.87,156.95 612.79,157.18 613.72,157.42 614.65,157.65 615.58,157.89 616.51,158.12 617.43,158.35 618.36,158.58 619.29,158.80 620.22,159.03 621.15,159.25 622.08,159.47 623.01,159.70 623.95,159.92 624.88,160.13 625.81,160.35 626.74,160.57 627.67,160.78 628.61,160.99 629.54,161.21 630.47,161.42 631.40,161.63 632.34,161.83 633.27,162.04 634.20,162.25 635.14,162.45 636.07,162.66 637.00,162.86 637.94,163.07 638.87,163.27 639.81,163.47 640.74,163.67 641.67,163.87 642.61,164.07 643.54,164.27 644.47,164.46 645.41,164.66 646.34,164.86 647.27,165.05 648.21,165.25" fill="none" stroke="#3a3a3a" stroke-width="0.75"/><polyline points="540.70,139.61 541.60,139.83 542.49,140.05 543.38,140.27 544.28,140.50 545.17,140.72 546.07,140.94 546.96,141.16 547.86,141.39 548.75,141.61 549.65,141.83 550.54,142.06 551.44,142.28 552.33,142.50 553.23,142.73 554.12,142.95 555.02,143.17 555.91,143.40 556.81,143.62 557.70,143.84 558.60,144.06 559.49,144.29 560.39,144.51 561.28,144.73 562.18,144.95 563.08,145.17 563.97,145.39 564.87,145.61 565.76,145.83 566.66,146.05 567.56,146.27 568.45,146.49 569.35,146.71 570.25,146.93 571.14,147.15 572.04,147.36 572.94,147.58 573.84,147.80 574.73,148.01 575.63,148.23 576.53,148.44 577.43,148.65 578.32,148.87 579.22,149.08 580.12,149.29 581.02,149.50 581.92,149.71 582.82,149.92 583.72,150.13 584.62,150.34 585.52,150.54 586.41,150.75 587.31,150.95 588.21,151.16 589.11,151.36 590.02,151.56 590.92,151.76 591.82,151.96 592.72,152.16 593.62,152.36 594.52,152.55 595.42,152.75 596.32,152.94 597.23,153.14 598.13,153.33 599.03,153.52 599.93,153.71 600.84,153.90 601.74,154.08 602.64,154.27 603.55,154.45 604.45,154.64 605.36,154.82 606.26,155.00 607.16,155.18 608.07,155.35 608.97,155.53 609.88,155.71 610.79,155.88 611.69,156.05 612.60,156.22 613.51,156.39 614.41,156.55 615.32,156.72 616.23,156.88 617.14,157.04 618.04,157.20 618.95,157.36 619.86,157.52 620.77,157.67 621.68,157.83 622.59,157.98 623.50,158.13 624.41,158.27 625.32,158.42 626.23,158.56 627.14,158.70 628.05,158.84 628.97,158.98 629.88,159.12 630.79,159.25 631.70,159.38 632.62,159.51 633.53,159.64 634.45,159.77 635.36,159.89 636.28,160.01 637.19,160.13 638.11,160.25 639.02,160.36 639.94,160.47 640.86,160.58 641.77,160.69 642.69,160.80 643.61,160.90 644.53,161.00 645.45,161.10 646.36,161.19 647.28,161.29 648.20,161.38" fill="none" stroke="#f03030" stroke-width="0.75"/><line x1="540.6" y1="194.4" x2="648.2" y2="194.4" stroke="#555" stroke-width="1"/><line x1="600.3" y1="153.6" x2="600.3" y2="196.5" stroke="#383838" stroke-width="1.7" stroke-dasharray="4.6,3.4"/><line x1="600.3" y1="200" x2="600.3" y2="202" stroke="#ccc" stroke-width="1"/><line x1="539.1" y1="193.10" x2="540.6" y2="193.10" stroke="#666" stroke-width="0.8"/><text transform="translate(538.3,195.7) scale(1.0,1.04)" font-size="7.6" text-anchor="end" style="fill:#505050;stroke:none">1.80</text><line x1="539.1" y1="181.10" x2="540.6" y2="181.10" stroke="#666" stroke-width="0.8"/><text transform="translate(538.3,183.7) scale(1.0,1.04)" font-size="7.6" text-anchor="end" style="fill:#505050;stroke:none">1.85</text><line x1="539.1" y1="169.10" x2="540.6" y2="169.10" stroke="#666" stroke-width="0.8"/><text transform="translate(538.3,171.7) scale(1.0,1.04)" font-size="7.6" text-anchor="end" style="fill:#505050;stroke:none">1.90</text><line x1="539.1" y1="157.10" x2="540.6" y2="157.10" stroke="#666" stroke-width="0.8"/><text transform="translate(538.3,159.7) scale(1.0,1.04)" font-size="7.6" text-anchor="end" style="fill:#505050;stroke:none">1.95</text><line x1="539.1" y1="145.10" x2="540.6" y2="145.10" stroke="#666" stroke-width="0.8"/><text transform="translate(538.3,147.7) scale(1.0,1.04)" font-size="7.6" text-anchor="end" style="fill:#505050;stroke:none">2.00</text><line x1="539.1" y1="133.10" x2="540.6" y2="133.10" stroke="#666" stroke-width="0.8"/><text transform="translate(538.3,135.7) scale(1.0,1.04)" font-size="7.6" text-anchor="end" style="fill:#505050;stroke:none">2.05</text><line x1="539.1" y1="121.10" x2="540.6" y2="121.10" stroke="#666" stroke-width="0.8"/><text transform="translate(538.3,123.7) scale(1.0,1.04)" font-size="7.6" text-anchor="end" style="fill:#505050;stroke:none">2.10</text><text transform="translate(558.2,202.8) scale(1.0,1.04)" font-size="7.6" text-anchor="middle" style="fill:#505050;stroke:none">12</text><text transform="translate(586.96,202.8) scale(1.0,1.04)" font-size="7.6" text-anchor="middle" style="fill:#505050;stroke:none">14</text><text transform="translate(615.72,202.8) scale(1.0,1.04)" font-size="7.6" text-anchor="middle" style="fill:#505050;stroke:none">16</text><text transform="translate(644.48,202.8) scale(1.0,1.04)" font-size="7.6" text-anchor="middle" style="fill:#505050;stroke:none">18</text><line x1="566" y1="112.6" x2="566" y2="130.6" stroke="#ccc" stroke-width="0.8"/><line x1="645.2" y1="112.6" x2="645.2" y2="130.6" stroke="#ccc" stroke-width="0.8"/><line x1="567.2" y1="117.3" x2="581.4" y2="117.3" stroke="#444" stroke-width="0.8"/><line x1="567.2" y1="126.2" x2="581.4" y2="126.2" stroke="#f03c3c" stroke-width="0.8"/><text transform="translate(584.6,120) scale(1.0,1.04)" font-size="7.4" style="fill:#505050;stroke:none">pp = 0%, w/s = 0.4</text><text transform="translate(584.6,128.9) scale(1.0,1.04)" font-size="7.4" style="fill:#505050;stroke:none">pp = 10%, w/s = 0.4</text><text transform="translate(611.6,145.7) scale(1.0,1.06)" font-size="16.2">14.9</text><line x1="610.6" y1="142.1" x2="604.6" y2="148.0" stroke="#111" stroke-width="1.2"/><polygon points="601.2,151.4 602.6,146.2 606.4,149.8" fill="#111"/></g>
<g><text transform="translate(396.59999999999997,273.1) scale(1.0,1.04)" font-size="17" text-anchor="end">1</text><text transform="translate(396.59999999999997,227.46) scale(1.0,1.04)" font-size="17" text-anchor="end">2</text><text transform="translate(396.59999999999997,181.82) scale(1.0,1.04)" font-size="17" text-anchor="end">3</text><text transform="translate(396.59999999999997,136.18) scale(1.0,1.04)" font-size="17" text-anchor="end">4</text><text transform="translate(396.59999999999997,90.54) scale(1.0,1.04)" font-size="17" text-anchor="end">5</text><text transform="translate(396.59999999999997,44.9) scale(1.0,1.04)" font-size="17" text-anchor="end">6</text><text transform="translate(402.2,287.2) scale(1.0,1.04)" font-size="17" text-anchor="middle">0</text><text transform="translate(528.05,287.2) scale(1.0,1.04)" font-size="17" text-anchor="middle">25</text><text transform="translate(653.9,287.2) scale(1.0,1.04)" font-size="17" text-anchor="middle">50</text><text transform="translate(543.9,312.0) scale(1.0,1.04)" font-size="16.85" text-anchor="middle">Hydration age (day)</text><text transform="translate(374,142) rotate(-90)" text-anchor="middle" font-size="16.6">Number of CP voxels (×10<tspan dy="-6.5" font-size="11">5</tspan><tspan dy="6.5">)</tspan></text><text transform="translate(358.1,11.3) scale(1,1)" font-size="16" font-weight="bold">(b)</text><text transform="translate(513.2,42.9) scale(1.0,1.04)" font-size="16.7">pp = 0%, w/s = 0.4</text><text transform="translate(513.2,62.9) scale(1.0,1.04)" font-size="16.7">pp = 10%, w/s = 0.4</text></g>
</svg>
</body></html>
